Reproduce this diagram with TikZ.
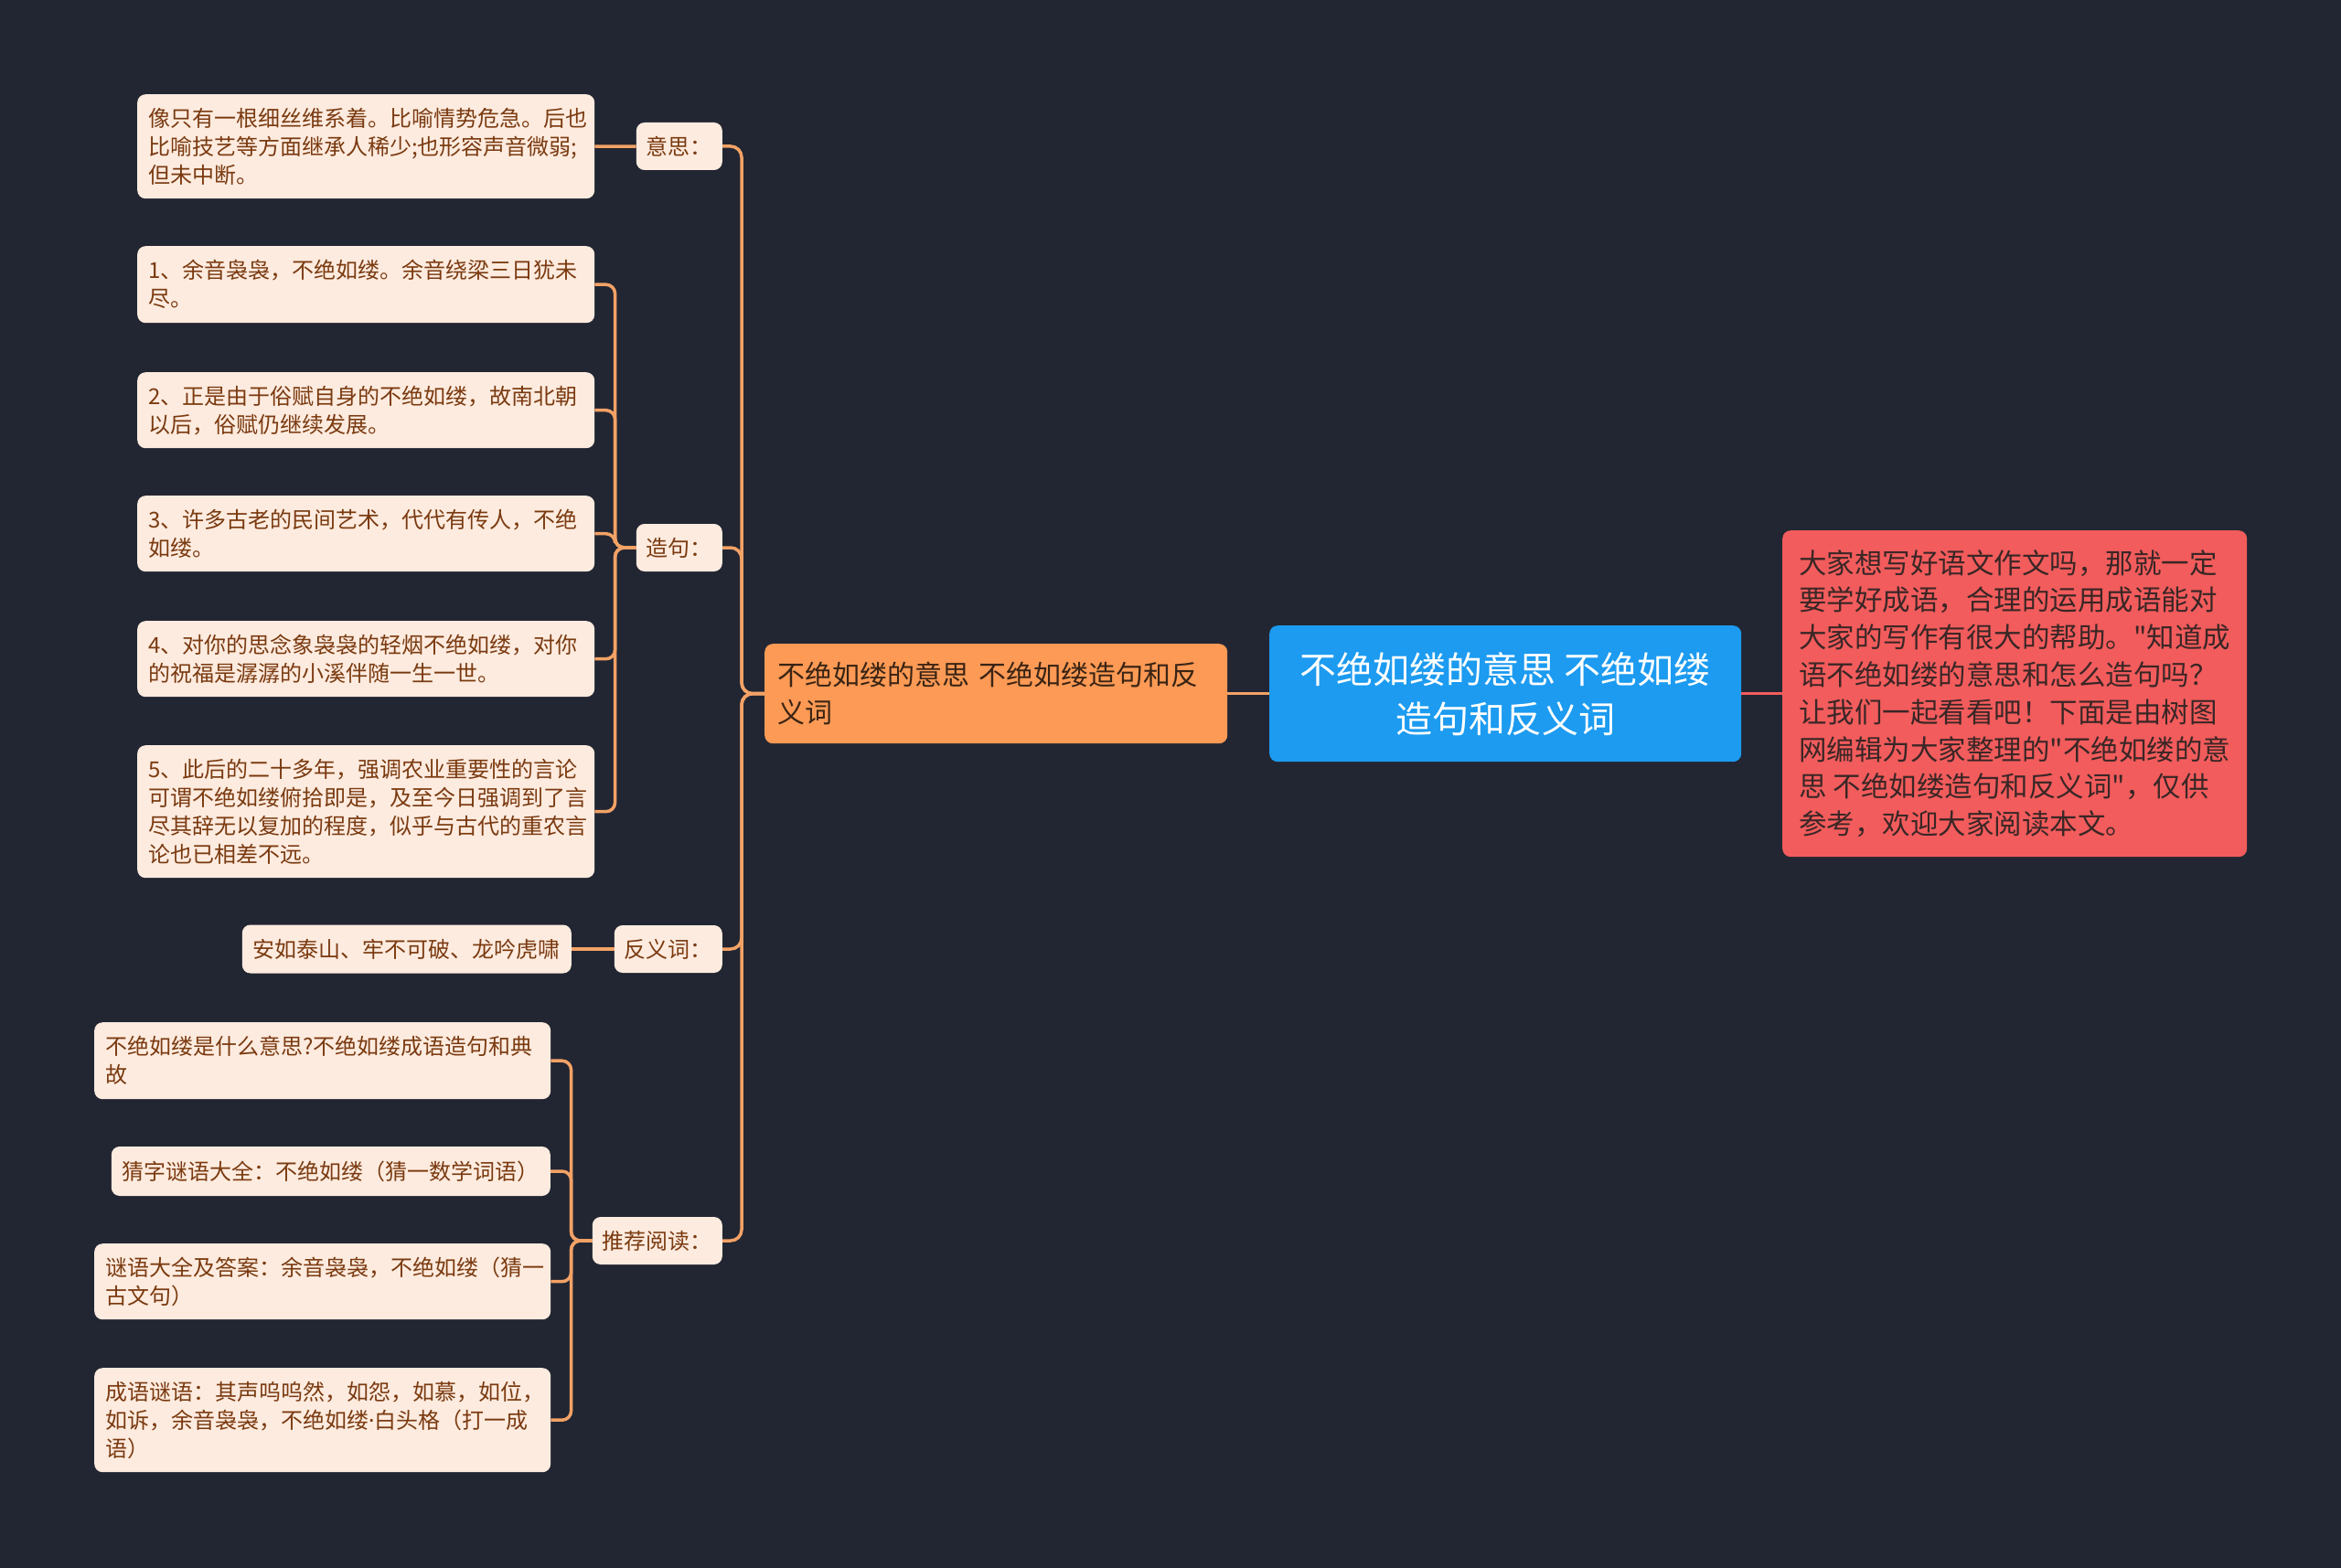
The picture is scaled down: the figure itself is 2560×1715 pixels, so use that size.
\documentclass[tikz,border=0pt]{standalone}
\usepackage{fontspec}
\setmainfont{Noto Sans CJK SC}[Ligatures=TeXOff]
\newfontfamily\latinfont{Noto Sans}
\definecolor{bgc}{HTML}{222632}
\definecolor{leafc}{HTML}{FDEBDF}
\definecolor{leaft}{HTML}{7A3A10}
\definecolor{connc}{HTML}{F3A266}
\definecolor{orangec}{HTML}{FD9A55}
\definecolor{orangetext}{HTML}{3A2414}
\definecolor{bluec}{HTML}{1C9BF0}
\definecolor{redc}{HTML}{F25C5C}
\definecolor{redtext}{HTML}{3A2626}
\tikzset{
  leafbox/.style={fill=leafc, rounded corners=9pt, text=leaft,
    font=\fontsize{24}{31}\selectfont, align=left, inner xsep=12pt, inner ysep=0pt},
  labelbox/.style={fill=leafc, rounded corners=9pt, text=leaft,
    font=\fontsize{24}{31}\selectfont, inner xsep=11pt, inner ysep=0pt,
    minimum height=52pt, anchor=east},
  conn/.style={draw=connc, line width=3.5pt, rounded corners=12pt},
}
\begin{document}
\begin{tikzpicture}[x=1pt,y=-1pt]
\fill[bgc] (0,0) rectangle (2560,1715);
\useasboundingbox (0,0) rectangle (2560,1715);

% central
\node[fill=bluec, rounded corners=9pt, text=white, align=center,
  font=\fontsize{40}{54}\selectfont, minimum width=516pt, minimum height=149pt,
  inner sep=0pt, anchor=north west] (center) at (1388,684)
  {不绝如缕的意思 不绝如缕\\造句和反义词};

% red intro
\node[fill=redc, rounded corners=9pt, text=redtext, align=left,
  font=\fontsize{30.5}{40.8}\selectfont, minimum width=508pt, minimum height=357pt,
  inner xsep=12pt, inner ysep=0pt, anchor=north west] (intro) at (1949,580)
  {大家想写好语文作文吗，那就一定\\
   要学好成语，合理的运用成语能对\\
   大家的写作有很大的帮助。"知道成\\
   语不绝如缕的意思和怎么造句吗？\\
   让我们一起看看吧！下面是由树图\\
   网编辑为大家整理的"不绝如缕的意\\
   思 不绝如缕造句和反义词"，仅供\\
   参考，欢迎大家阅读本文。};

% orange main
\node[fill=orangec, rounded corners=9pt, text=orangetext, align=left,
  font=\fontsize{30}{41}\selectfont, text width=478pt, minimum height=109pt,
  inner xsep=14pt, inner ysep=0pt, anchor=north west] (main) at (836,704)
  {不绝如缕的意思 不绝如缕造句和反\\义词};

% labels
\node[labelbox] (yisi) at (790,160) {意思：};
\node[labelbox] (zaoju) at (790,599) {造句：};
\node[labelbox] (fanyi) at (790,1038) {反义词：};
\node[labelbox] (tuijian) at (790,1357) {推荐阅读：};

% meaning leaf
\node[leafbox, text width=476pt, minimum height=114pt, anchor=north west] (m1) at (150,103)
  {像只有一根细丝维系着。比喻情势危急。后也\\比喻技艺等方面继承人稀少;也形容声音微弱;\\但未中断。};

% sentence leaves
\node[leafbox, text width=476pt, minimum height=84pt, anchor=north west] (s1) at (150,269)
  {1、余音袅袅，不绝如缕。余音绕梁三日犹未\\尽。};
\node[leafbox, text width=476pt, minimum height=83pt, anchor=north west] (s2) at (150,407)
  {2、正是由于俗赋自身的不绝如缕，故南北朝\\以后，俗赋仍继续发展。};
\node[leafbox, text width=476pt, minimum height=83pt, anchor=north west] (s3) at (150,542)
  {3、许多古老的民间艺术，代代有传人，不绝\\如缕。};
\node[leafbox, text width=476pt, minimum height=83pt, anchor=north west] (s4) at (150,679)
  {4、对你的思念象袅袅的轻烟不绝如缕，对你\\的祝福是潺潺的小溪伴随一生一世。};
\node[leafbox, text width=476pt, minimum height=145pt, anchor=north west] (s5) at (150,815)
  {5、此后的二十多年，强调农业重要性的言论\\可谓不绝如缕俯拾即是，及至今日强调到了言\\尽其辞无以复加的程度，似乎与古代的重农言\\论也已相差不远。};

% antonym leaf
\node[leafbox, minimum height=53pt, anchor=east] (a1) at (625,1038)
  {安如泰山、牢不可破、龙吟虎啸};

% recommended leaves
\node[leafbox, text width=475pt, minimum height=84pt, anchor=north west] (r1) at (103,1118)
  {不绝如缕是什么意思?不绝如缕成语造句和典\\故};
\node[leafbox, minimum height=54pt, anchor=east] (r2) at (602,1281)
  {猜字谜语大全：不绝如缕（猜一数学词语）};
\node[leafbox, text width=475pt, minimum height=83pt, anchor=north west] (r3) at (103,1360)
  {谜语大全及答案：余音袅袅，不绝如缕（猜一\\古文句）};
\node[leafbox, text width=475pt, minimum height=114pt, anchor=north west] (r4) at (103,1496)
  {成语谜语：其声呜呜然，如怨，如慕，如位，\\如诉，余音袅袅，不绝如缕{\latinfont ·}白头格（打一成\\语）};

% connectors
\draw[conn] (center.west) -- (main.east);
\draw[draw=redc, line width=3.5pt] (center.east) -- (intro.west |- center.east);

\foreach \t in {yisi,zaoju,fanyi,tuijian}
  \draw[conn] (main.west) -- ++(-25,0) |- (\t.east);

\draw[conn] (yisi.west) -- (m1.east);
\foreach \t in {s1,s2,s3,s4,s5}
  \draw[conn, rounded corners=10pt] (zaoju.west) -- ++(-23,0) |- (\t.east);
\draw[conn] (fanyi.west) -- (a1.east);
\foreach \t in {r1,r2,r3,r4}
  \draw[conn, rounded corners=10pt] (tuijian.west) -- ++(-23,0) |- (\t.east);
\end{tikzpicture}
\end{document}
